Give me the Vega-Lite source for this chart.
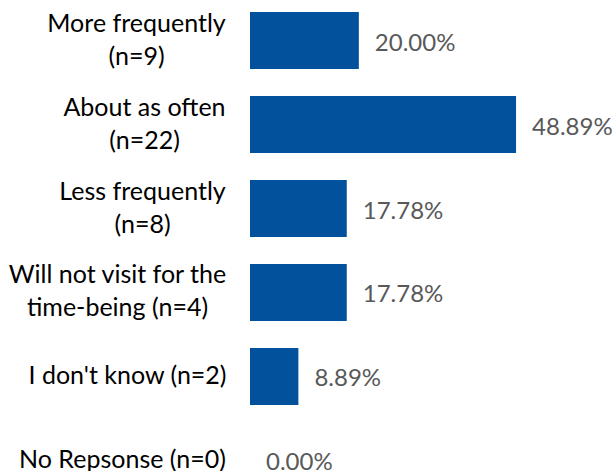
{
  "$schema": "https://vega.github.io/schema/vega-lite/v6.json",
  "autosize": "none",
  "padding": {"left": 250, "top": 0, "right": 0, "bottom": 0},
  "width": 363,
  "height": 501,
  "background": "white",
  "config": {"view": {"stroke": null}, "font": "Lato"},
  "data": {
    "values": [
      {"category": "More frequently|(n=9)", "share": 0.2},
      {"category": "About as often|(n=22)", "share": 0.4889},
      {"category": "Less frequently|(n=8)", "share": 0.1778},
      {"category": "Will not visit for the|time-being (n=4)", "share": 0.1778},
      {"category": "I don't know (n=2)", "share": 0.0889},
      {"category": "No Repsonse (n=0)", "share": 0.0}
    ]
  },
  "encoding": {
    "y": {
      "field": "category",
      "type": "nominal",
      "sort": null,
      "scale": {"paddingInner": 0.32, "paddingOuter": 0.143},
      "axis": {
        "title": null,
        "domain": false,
        "ticks": false,
        "labelExpr": "split(datum.label, '|')",
        "labelFont": "Lato",
        "labelFontSize": 25,
        "labelLineHeight": 33,
        "labelColor": "#000000",
        "labelPadding": {
          "condition": [
            {"test": "datum.value == 'More frequently|(n=9)'", "value": 114},
            {"test": "datum.value == 'About as often|(n=22)'", "value": 106},
            {"test": "datum.value == 'Less frequently|(n=8)'", "value": 108},
            {"test": "datum.value == 'Will not visit for the|time-being (n=4)'", "value": 133},
            {"test": "datum.value == 'I don\\'t know (n=2)'", "value": 123}
          ],
          "value": 128
        },
        "labelOffset": {
          "condition": {"test": "indexof(datum.value, '|') >= 0", "value": -17},
          "value": 0
        },
        "labelLimit": 300,
        "labelAlign": "center",
        "labelBaseline": "middle"
      }
    },
    "x": {
      "field": "share",
      "type": "quantitative",
      "scale": {"domain": [0, 0.667], "nice": false, "zero": true},
      "axis": null
    }
  },
  "layer": [
    {"mark": {"type": "bar", "color": "#02519C"}},
    {
      "mark": {"type": "text", "align": "left", "baseline": "middle", "dx": 16, "dy": 3, "fontSize": 24, "font": "Lato", "color": "#595959"},
      "encoding": {"text": {"field": "share", "type": "quantitative", "format": ".2%"}}
    }
  ]
}
